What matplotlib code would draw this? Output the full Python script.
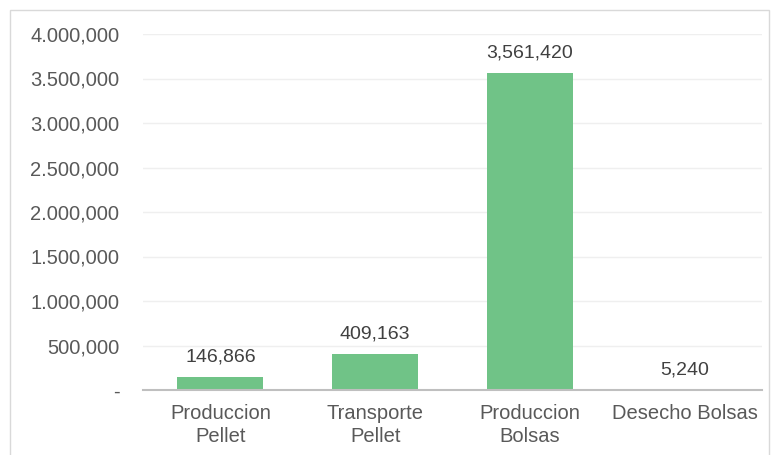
import numpy as np
import matplotlib.pyplot as plt
from matplotlib.patches import Rectangle
from matplotlib.ticker import FuncFormatter

categorias = ['Produccion\nPellet', 'Transporte\nPellet', 'Produccion\nBolsas', 'Desecho Bolsas']
valores = [146866, 409163, 3561420, 5240]
yticks = [0, 500000, 1000000, 1500000, 2000000, 2500000, 3000000, 3500000, 4000000]

plt.rcParams['font.family'] = ['Liberation Sans', 'DejaVu Sans']

fig = plt.figure(figsize=(7.72, 4.55), dpi=100)
fig.patches.append(Rectangle((10 / 772, -0.05), 759 / 772, 1 - 10 / 455 + 0.05,
                             transform=fig.transFigure, fill=False,
                             edgecolor='#d9d9d9', linewidth=1))

ax = fig.add_axes([143 / 772, 1 - 390 / 455, 619 / 772, 356 / 455])
x = np.arange(len(categorias))
bars = ax.bar(x, valores, width=0.555, color='#70c387', zorder=2)

for xi, v in zip(x, valores):
    ax.text(xi, v + 125000, f'{v:,.0f}', ha='center', va='bottom',
            fontsize=14, color='#404040')

def fmt(v, pos):
    if v == 0:
        return '-'
    s = f'{v:,.0f}'
    if s.count(',') == 2:
        s = s.replace(',', '.', 1)
    return s

ax.set_ylim(0, 4000000)
ax.set_xlim(-0.5, len(categorias) - 0.5)
ax.set_yticks(yticks)
ax.yaxis.set_major_formatter(FuncFormatter(fmt))
ax.set_xticks(x)
ax.set_xticklabels(categorias, linespacing=1.3)
ax.tick_params(axis='both', length=0, labelsize=14.5, labelcolor='#595959')
ax.tick_params(axis='y', pad=17)
ax.tick_params(axis='x', pad=10)
ax.grid(axis='y', color='#efefef', linewidth=1, zorder=0)
for s in ['top', 'right', 'left']:
    ax.spines[s].set_visible(False)
ax.spines['bottom'].set_color('#bfbfbf')
ax.spines['bottom'].set_linewidth(1.5)
ax.spines['bottom'].set_zorder(3)

fig.savefig('out.png', dpi=100)
